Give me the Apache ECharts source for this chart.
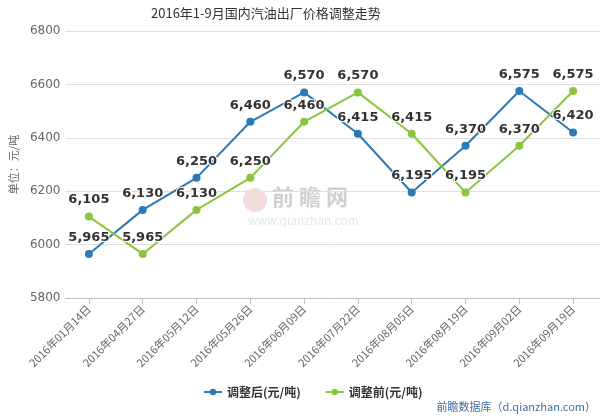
<!DOCTYPE html>
<html>
<head>
<meta charset="utf-8">
<script src="https://cdn.jsdelivr.net/npm/echarts@6/dist/echarts.min.js"></script>
<style>
  html, body { margin: 0; padding: 0; background: #fff; }
  #chart { width: 600px; height: 420px; }
</style>
</head>
<body>
<div id="chart"></div>
<script>
// 日期
const dates = ['2016年01月14日', '2016年04月27日', '2016年05月12日', '2016年05月26日', '2016年06月09日',
  '2016年07月22日', '2016年08月05日', '2016年08月19日', '2016年09月02日', '2016年09月19日'];
// 调整后 / 调整前 价格
const afterPrice = [5965, 6130, 6250, 6460, 6570, 6415, 6195, 6370, 6575, 6420];
const beforePrice = [6105, 5965, 6130, 6250, 6460, 6570, 6415, 6195, 6370, 6575];
const yMin = 5800, yMax = 6800, yStep = 200;

const chart = echarts.init(document.getElementById('chart'));
const font = '"Noto Sans CJK SC", "Noto Sans", sans-serif';

function labelStyle() {
  return {
    show: true,
    position: 'top',
    distance: 6,
    color: '#333',
    fontWeight: 'bold',
    fontSize: 13,
    fontFamily: 'Verdana, "DejaVu Sans", sans-serif',
    textBorderColor: '#fff',
    textBorderWidth: 2,
    formatter: p => p.value.toLocaleString('en-US')
  };
}

chart.setOption({
  animation: false,
  textStyle: { fontFamily: font },
  title: {
    text: '2016年1-9月国内汽油出厂价格调整走势',
    left: 146,
    top: 2,
    textStyle: { fontSize: 13, fontWeight: 'normal', color: '#333' }
  },
  legend: {
    bottom: 17,
    left: 198,
    itemWidth: 18,
    itemHeight: 8,
    itemGap: 24,
    textStyle: { fontSize: 12, fontWeight: 'bold', color: '#333' },
    data: ['调整后(元/吨)', '调整前(元/吨)']
  },
  grid: [
    { left: 62, right: 0, top: 31, bottom: 122 },
    { left: 52, right: 0, top: 31, bottom: 122 }
  ],
  xAxis: [
    {
      type: 'category',
      gridIndex: 0,
      data: dates,
      axisLine: { show: false },
      axisTick: { show: true, alignWithLabel: true, length: 6, lineStyle: { color: '#c0c0c0' } },
      axisLabel: { rotate: 45, fontSize: 11, color: '#666', margin: 9, interval: 0 }
    },
    {
      type: 'category',
      gridIndex: 1,
      data: dates,
      axisLine: { show: true, lineStyle: { color: '#c0c0c0' } },
      axisTick: { show: false },
      axisLabel: { show: false }
    }
  ],
  yAxis: [
    {
      type: 'value',
      gridIndex: 0,
      min: yMin, max: yMax, interval: yStep,
      axisLabel: { show: false },
      splitLine: { show: false },
      axisLine: { show: false },
      axisTick: { show: false }
    },
    {
      type: 'value',
      gridIndex: 1,
      min: yMin, max: yMax, interval: yStep,
      name: '单位：元/吨',
      nameLocation: 'middle',
      nameGap: 44,
      nameTextStyle: { fontSize: 11, color: '#666' },
      axisLabel: {
        fontSize: 12, color: '#666', margin: 5,
        fontFamily: 'Verdana, "DejaVu Sans", sans-serif',
        formatter: v => String(v)
      },
      splitLine: { lineStyle: { color: '#e0e0e0' } },
      axisLine: { show: false },
      axisTick: { show: false }
    }
  ],
  graphic: [
    {
      type: 'text', left: 272, top: 186,
      style: { text: '前 瞻 网', fontSize: 22, fontWeight: 'bold', fill: 'rgba(120,120,120,0.35)', fontFamily: font }
    },
    {
      type: 'circle', shape: { cx: 255, cy: 200, r: 12 },
      style: { fill: 'rgba(190,80,80,0.2)' }
    },
    {
      type: 'text', left: 248, top: 214,
      style: { text: 'www.qianzhan.com', fontSize: 12, fill: 'rgba(150,150,150,0.25)', fontFamily: font }
    },
    {
      type: 'text', right: 4, top: 401,
      style: { text: '前瞻数据库（d.qianzhan.com）', fontSize: 11, fill: '#3e6fa6', fontFamily: font }
    }
  ],
  series: [
    {
      name: '调整后(元/吨)',
      type: 'line',
      xAxisIndex: 0, yAxisIndex: 0,
      data: afterPrice,
      color: '#2a7ab8',
      symbol: 'circle',
      symbolSize: 8,
      lineStyle: { width: 2 },
      label: labelStyle()
    },
    {
      name: '调整前(元/吨)',
      type: 'line',
      xAxisIndex: 0, yAxisIndex: 0,
      data: beforePrice,
      color: '#8cc43f',
      symbol: 'circle',
      symbolSize: 8,
      lineStyle: { width: 2 },
      label: labelStyle()
    }
  ]
});
</script>
</body>
</html>
